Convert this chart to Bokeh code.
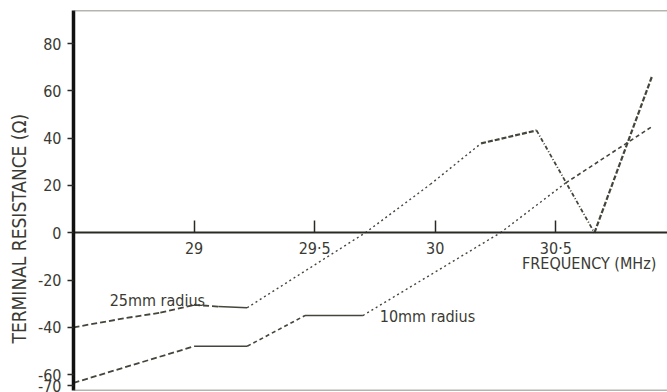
from bokeh.plotting import figure
from bokeh.models import FixedTicker, Span, Label, Title
from bokeh.embed import file_html
from bokeh.resources import INLINE

# ---- data ----
freq_25 = [28.5, 28.72, 28.86, 29.0, 29.1, 29.22, 29.71, 29.98, 30.19, 30.42, 30.66, 30.90]
res_25 = [-40, -36, -33.8, -30.5, -31.2, -31.7, 0, 20.5, 37.8, 43.3, 0, 66.5]
freq_10 = [28.5, 29.0, 29.22, 29.46, 29.70, 30.27, 30.54, 30.90]
res_10 = [-63.5, -48, -48, -35, -35, 0, 21, 45]
x_ticks = [29, 29.5, 30, 30.5]
x_tick_labels = ["29", "29·5", "30", "30·5"]
# the original drawing squeezes its "-70" mark against the bottom edge
y_ticks = [-64.6, -60, -40, -20, 0, 20, 40, 60, 80]
y_tick_labels = ["-70", "-60", "-40", "-20", "0", "20", "40", "60", "80"]

# ---- per-segment line styles (dash, width) ----
DASH = ("6 3", 1.8)
SOLID = ("solid", 1.6)
DOT = ("2 3", 1.4)
HEAVY = ("5 2", 2.2)
DASHDOT = ("4 2 1 2", 1.8)
style_25 = [DASH, DASH, DASH, DASH, SOLID, DOT, DOT, DOT, HEAVY, DASHDOT, HEAVY]
style_10 = [DASH, SOLID, ("4 3", 1.6), SOLID, DOT, DOT, ("4 3", 1.6)]

FONT = "DejaVu Sans Condensed"
INK = "#3a3a33"
LINE = "#45453c"

p = figure(width=667, height=392, x_range=(28.5, 30.963), y_range=(-66.7, 94),
           output_backend="svg", toolbar_location=None,
           min_border_left=73, min_border_right=0, min_border_top=10, min_border_bottom=2)
p.grid.visible = False
p.outline_line_color = None
p.background_fill_color = "white"
p.border_fill_color = "white"

# x axis drawn through y = 0
p.xaxis.fixed_location = 0
p.xaxis.ticker = FixedTicker(ticks=x_ticks)
p.xaxis.major_label_overrides = {t: s for t, s in zip(x_ticks, x_tick_labels)}
p.xaxis.major_tick_in = 12
p.xaxis.major_tick_out = 0
p.xaxis.minor_tick_line_color = None
p.xaxis.axis_line_width = 2
p.xaxis.axis_line_color = "#2a2a25"
p.xaxis.major_tick_line_color = "#2a2a25"
p.xaxis.major_tick_line_width = 1.5
p.xaxis.major_label_standoff = 6
p.xaxis.major_label_text_font = FONT
p.xaxis.major_label_text_font_size = "16px"
p.xaxis.major_label_text_color = INK

p.yaxis.ticker = FixedTicker(ticks=y_ticks)
p.yaxis.major_label_overrides = {t: s for t, s in zip(y_ticks, y_tick_labels)}
p.yaxis.axis_line_width = 3.5
p.yaxis.axis_line_color = "#111111"
p.yaxis.major_tick_in = 0
p.yaxis.major_tick_out = 6
p.yaxis.minor_tick_line_color = None
p.yaxis.major_tick_line_color = "#2a2a25"
p.yaxis.major_tick_line_width = 1.5
p.yaxis.major_label_standoff = 6
p.yaxis.major_label_text_font = FONT
p.yaxis.major_label_text_font_size = "16px"
p.yaxis.major_label_text_color = INK

# y axis title, placed a little below centre as in the reference
p.add_layout(Title(text="TERMINAL RESISTANCE (Ω)", align="left", offset=47,
                   text_font=FONT, text_font_size="19px", text_font_style="normal",
                   text_color=INK), "left")

# frame top / bottom rules
p.add_layout(Span(location=94, dimension="width", line_color="#6b6b62", line_width=1.5))
p.add_layout(Span(location=-66.7, dimension="width", line_color="#6b6b62", line_width=1.5))

def draw(xs, ys, styles):
    for i, (dash, w) in enumerate(styles):
        p.line(xs[i:i + 2], ys[i:i + 2], line_color=LINE, line_width=w, line_dash=dash)

draw(freq_25, res_25, style_25)
draw(freq_10, res_10, style_10)

def lab(text, x, y, **kw):
    p.add_layout(Label(x=x, y=y, text=text, text_font=FONT, text_color=INK,
                       text_font_size="16px", **kw))

lab("25mm radius", 28.65, -28.8, text_baseline="alphabetic")
lab("10mm radius", 29.77, -35.5, text_baseline="middle")
lab("FREQUENCY (MHz)", 30.36, -13.1, text_baseline="middle")

open("out.html", "w").write(file_html(p, INLINE))
